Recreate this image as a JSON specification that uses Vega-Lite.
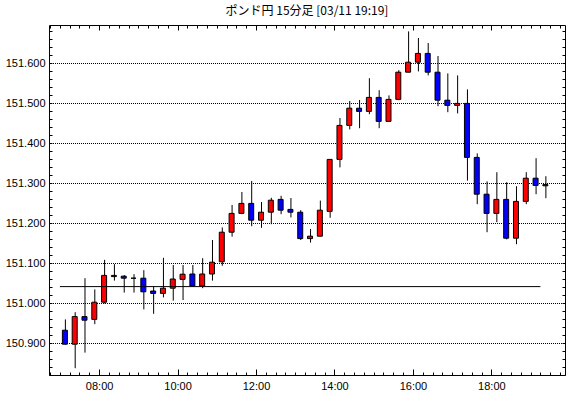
{
  "$schema": "https://vega.github.io/schema/vega-lite/v6.json",
  "width": 516,
  "height": 350,
  "autosize": "none",
  "padding": {"left": 49, "top": 25, "right": 5, "bottom": 23},
  "background": "white",
  "title": {"text": "ポンド円 15分足 [03/11 19:19]", "font": "Noto Sans CJK JP", "fontSize": 12, "fontWeight": "normal", "color": "black", "anchor": "middle", "offset": 7},
  "config": {
    "view": {"stroke": null},
    "axis": {"labelFont": "Liberation Sans", "labelFontSize": 11, "labelColor": "black", "tickColor": "black", "domainColor": "black", "domainWidth": 1, "tickWidth": 1}
  },
  "datasets": {
    "candles": [
      {"t": "2025-03-11 07:00", "o": 150.932, "h": 150.959, "l": 150.896, "c": 150.897},
      {"t": "2025-03-11 07:15", "o": 150.897, "h": 150.977, "l": 150.837, "c": 150.966},
      {"t": "2025-03-11 07:30", "o": 150.966, "h": 151.062, "l": 150.876, "c": 150.957},
      {"t": "2025-03-11 07:45", "o": 150.959, "h": 151.034, "l": 150.947, "c": 151.002},
      {"t": "2025-03-11 08:00", "o": 151.002, "h": 151.108, "l": 150.999, "c": 151.069},
      {"t": "2025-03-11 08:15", "o": 151.066, "h": 151.097, "l": 151.056, "c": 151.069},
      {"t": "2025-03-11 08:30", "o": 151.067, "h": 151.070, "l": 151.026, "c": 151.062},
      {"t": "2025-03-11 08:45", "o": 151.062, "h": 151.072, "l": 151.026, "c": 151.062},
      {"t": "2025-03-11 09:00", "o": 151.062, "h": 151.082, "l": 150.984, "c": 151.028},
      {"t": "2025-03-11 09:15", "o": 151.030, "h": 151.041, "l": 150.973, "c": 151.024},
      {"t": "2025-03-11 09:30", "o": 151.024, "h": 151.113, "l": 151.014, "c": 151.037},
      {"t": "2025-03-11 09:45", "o": 151.037, "h": 151.095, "l": 151.006, "c": 151.060},
      {"t": "2025-03-11 10:00", "o": 151.059, "h": 151.095, "l": 151.0075, "c": 151.072},
      {"t": "2025-03-11 10:15", "o": 151.0725, "h": 151.095, "l": 151.0425, "c": 151.0425},
      {"t": "2025-03-11 10:30", "o": 151.0425, "h": 151.112, "l": 151.037, "c": 151.0725},
      {"t": "2025-03-11 10:45", "o": 151.0725, "h": 151.1575, "l": 151.056, "c": 151.102},
      {"t": "2025-03-11 11:00", "o": 151.103, "h": 151.189, "l": 151.093, "c": 151.177},
      {"t": "2025-03-11 11:15", "o": 151.177, "h": 151.245, "l": 151.166, "c": 151.224},
      {"t": "2025-03-11 11:30", "o": 151.224, "h": 151.2775, "l": 151.222, "c": 151.249},
      {"t": "2025-03-11 11:45", "o": 151.249, "h": 151.305, "l": 151.192, "c": 151.207},
      {"t": "2025-03-11 12:00", "o": 151.207, "h": 151.2525, "l": 151.188, "c": 151.227},
      {"t": "2025-03-11 12:15", "o": 151.227, "h": 151.263, "l": 151.197, "c": 151.257},
      {"t": "2025-03-11 12:30", "o": 151.259, "h": 151.268, "l": 151.222, "c": 151.232},
      {"t": "2025-03-11 12:45", "o": 151.234, "h": 151.2625, "l": 151.214, "c": 151.227},
      {"t": "2025-03-11 13:00", "o": 151.227, "h": 151.232, "l": 151.1575, "c": 151.161},
      {"t": "2025-03-11 13:15", "o": 151.161, "h": 151.185, "l": 151.151, "c": 151.167},
      {"t": "2025-03-11 13:30", "o": 151.167, "h": 151.256, "l": 151.167, "c": 151.232},
      {"t": "2025-03-11 13:45", "o": 151.229, "h": 151.359, "l": 151.213, "c": 151.359},
      {"t": "2025-03-11 14:00", "o": 151.359, "h": 151.4625, "l": 151.339, "c": 151.444},
      {"t": "2025-03-11 14:15", "o": 151.444, "h": 151.505, "l": 151.434, "c": 151.487},
      {"t": "2025-03-11 14:30", "o": 151.487, "h": 151.5075, "l": 151.437, "c": 151.479},
      {"t": "2025-03-11 14:45", "o": 151.479, "h": 151.562, "l": 151.472, "c": 151.514},
      {"t": "2025-03-11 15:00", "o": 151.514, "h": 151.532, "l": 151.437, "c": 151.454},
      {"t": "2025-03-11 15:15", "o": 151.454, "h": 151.519, "l": 151.454, "c": 151.509},
      {"t": "2025-03-11 15:30", "o": 151.509, "h": 151.582, "l": 151.507, "c": 151.577},
      {"t": "2025-03-11 15:45", "o": 151.577, "h": 151.679, "l": 151.577, "c": 151.602},
      {"t": "2025-03-11 16:00", "o": 151.602, "h": 151.6625, "l": 151.579, "c": 151.624},
      {"t": "2025-03-11 16:15", "o": 151.624, "h": 151.650, "l": 151.569, "c": 151.577},
      {"t": "2025-03-11 16:30", "o": 151.577, "h": 151.6175, "l": 151.492, "c": 151.507},
      {"t": "2025-03-11 16:45", "o": 151.507, "h": 151.574, "l": 151.477, "c": 151.494},
      {"t": "2025-03-11 17:00", "o": 151.494, "h": 151.569, "l": 151.474, "c": 151.499},
      {"t": "2025-03-11 17:15", "o": 151.499, "h": 151.534, "l": 151.306, "c": 151.364},
      {"t": "2025-03-11 17:30", "o": 151.364, "h": 151.374, "l": 151.247, "c": 151.272},
      {"t": "2025-03-11 17:45", "o": 151.272, "h": 151.304, "l": 151.177, "c": 151.224},
      {"t": "2025-03-11 18:00", "o": 151.224, "h": 151.327, "l": 151.202, "c": 151.259},
      {"t": "2025-03-11 18:15", "o": 151.259, "h": 151.302, "l": 151.159, "c": 151.162},
      {"t": "2025-03-11 18:30", "o": 151.162, "h": 151.292, "l": 151.147, "c": 151.254},
      {"t": "2025-03-11 18:45", "o": 151.254, "h": 151.327, "l": 151.247, "c": 151.312},
      {"t": "2025-03-11 19:00", "o": 151.312, "h": 151.362, "l": 151.272, "c": 151.294},
      {"t": "2025-03-11 19:15", "o": 151.296, "h": 151.317, "l": 151.262, "c": 151.293}
    ],
    "ref": [
      {"start": "2025-03-11 07:00", "end": "2025-03-11 19:15", "level": 151.041}
    ]
  },
  "resolve": {"axis": {"x": "independent", "y": "independent"}},
  "layer": [
    {
      "data": {"name": "candles"},
      "mark": {"type": "rule", "color": "black", "strokeWidth": 1, "xOffset": 5.5},
      "encoding": {
        "x": {"field": "t", "type": "temporal",
          "scale": {"domain": [{"year": 2025, "month": 3, "date": 11, "hours": 6, "minutes": 51}, {"year": 2025, "month": 3, "date": 11, "hours": 19, "minutes": 45}]},
          "axis": {"orient": "bottom", "title": null, "grid": false, "domain": true, "tickSize": -6, "labelPadding": 11, "format": "%H:%M", "formatType": "time",
            "values": [
              {"year": 2025, "month": 3, "date": 11, "hours": 8, "minutes": 0},
              {"year": 2025, "month": 3, "date": 11, "hours": 10, "minutes": 0},
              {"year": 2025, "month": 3, "date": 11, "hours": 12, "minutes": 0},
              {"year": 2025, "month": 3, "date": 11, "hours": 14, "minutes": 0},
              {"year": 2025, "month": 3, "date": 11, "hours": 16, "minutes": 0},
              {"year": 2025, "month": 3, "date": 11, "hours": 18, "minutes": 0}
            ]}},
        "y": {"field": "l", "type": "quantitative",
          "scale": {"domain": [150.82, 151.695], "nice": false, "zero": false},
          "axis": {"orient": "left", "title": null, "ticks": false, "labelPadding": 4, "format": ".3f", "domain": true,
            "grid": true, "gridDash": [1, 1], "gridDashOffset": 0.5, "gridColor": "black", "gridWidth": 1, "gridOpacity": 1,
            "values": [150.9, 151.0, 151.1, 151.2, 151.3, 151.4, 151.5, 151.6]}},
        "y2": {"field": "h"}
      }
    },
    {
      "data": {"name": "candles"},
      "transform": [{"filter": "datum.c >= datum.o"}],
      "mark": {"type": "bar", "width": 5, "xOffset": 5, "fill": "#ff0000", "stroke": "black", "strokeWidth": 1},
      "encoding": {
        "x": {"field": "t", "type": "temporal",
          "axis": {"orient": "bottom", "title": null, "grid": false, "domain": false, "labels": false, "tickSize": -3, "tickCount": 52}},
        "y": {"field": "o", "type": "quantitative",
          "axis": {"orient": "left", "title": null, "grid": false, "domain": false, "labels": false, "tickSize": -3,
            "values": [150.82, 150.84, 150.86, 150.88, 150.9, 150.92, 150.94, 150.96, 150.98, 151.0, 151.02, 151.04, 151.06, 151.08, 151.1, 151.12, 151.14, 151.16, 151.18, 151.2, 151.22, 151.24, 151.26, 151.28, 151.3, 151.32, 151.34, 151.36, 151.38, 151.4, 151.42, 151.44, 151.46, 151.48, 151.5, 151.52, 151.54, 151.56, 151.58, 151.6, 151.62, 151.64, 151.66, 151.68]}},
        "y2": {"field": "c"}
      }
    },
    {
      "data": {"name": "candles"},
      "transform": [{"filter": "datum.c < datum.o"}],
      "mark": {"type": "bar", "width": 5, "xOffset": 5, "fill": "#0000ff", "stroke": "black", "strokeWidth": 1},
      "encoding": {
        "x": {"field": "t", "type": "temporal",
          "axis": {"orient": "top", "title": null, "grid": false, "domain": true, "labels": false, "tickSize": -3, "tickCount": 52}},
        "y": {"field": "o", "type": "quantitative",
          "axis": {"orient": "right", "title": null, "grid": false, "domain": true, "labels": false, "tickSize": -3,
            "values": [150.82, 150.84, 150.86, 150.88, 150.9, 150.92, 150.94, 150.96, 150.98, 151.0, 151.02, 151.04, 151.06, 151.08, 151.1, 151.12, 151.14, 151.16, 151.18, 151.2, 151.22, 151.24, 151.26, 151.28, 151.3, 151.32, 151.34, 151.36, 151.38, 151.4, 151.42, 151.44, 151.46, 151.48, 151.5, 151.52, 151.54, 151.56, 151.58, 151.6, 151.62, 151.64, 151.66, 151.68]}},
        "y2": {"field": "c"}
      }
    },
    {
      "data": {"name": "ref"},
      "mark": {"type": "rule", "color": "black", "strokeWidth": 1},
      "encoding": {
        "x": {"field": "start", "type": "temporal",
          "axis": {"orient": "top", "title": null, "grid": false, "domain": false, "labels": false, "tickSize": -5,
            "values": [
              {"year": 2025, "month": 3, "date": 11, "hours": 8, "minutes": 0},
              {"year": 2025, "month": 3, "date": 11, "hours": 10, "minutes": 0},
              {"year": 2025, "month": 3, "date": 11, "hours": 12, "minutes": 0},
              {"year": 2025, "month": 3, "date": 11, "hours": 14, "minutes": 0},
              {"year": 2025, "month": 3, "date": 11, "hours": 16, "minutes": 0},
              {"year": 2025, "month": 3, "date": 11, "hours": 18, "minutes": 0}
            ]}},
        "x2": {"field": "end"},
        "y": {"field": "level", "type": "quantitative", "axis": null}
      }
    }
  ]
}
